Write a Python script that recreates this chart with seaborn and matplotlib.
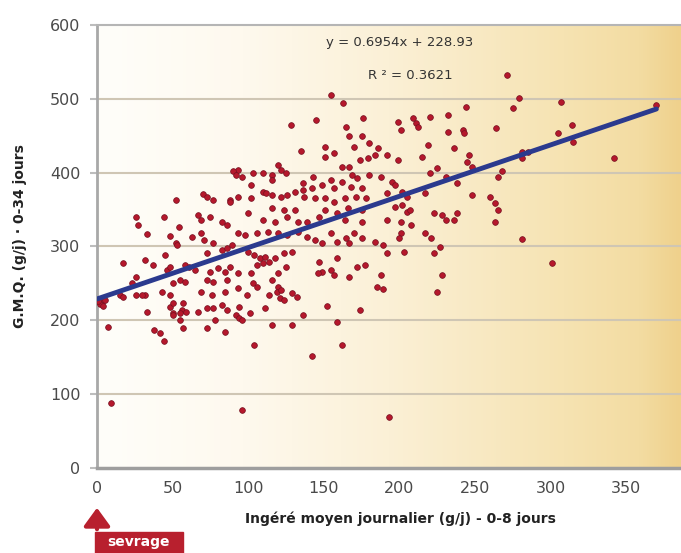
import numpy as np
import pandas as pd
import matplotlib
matplotlib.use("Agg")
import matplotlib.pyplot as plt
import seaborn as sns
from matplotlib.colors import LinearSegmentedColormap
from matplotlib.patches import Rectangle, FancyArrowPatch

# Ingéré moyen journalier (g/j) 0-8 jours
ingere = [
    155, 163, 176, 128, 145, 165, 167, 175, 180, 151,
    157, 151, 170, 135, 174, 179, 162, 167, 169, 172,
    180, 120, 122, 116, 125, 110, 93, 96, 102, 116,
    143, 136, 136, 142, 149, 155, 162, 157, 168, 175,
    93, 102, 110, 116, 122, 126, 131, 137, 144, 151,
    157, 164, 171, 178, 116, 124, 131, 100, 151, 159,
    166, 175, 126, 133, 110, 118, 147, 139, 164, 175,
    # zone gauche haute
    52, 70, 73, 77, 88, 90, 26, 44, 67, 69,
    75, 83, 86, 27, 54, 92, 88, 103, 112,
    # zone gauche basse
    33, 48, 52, 53, 63, 69, 71, 77, 83, 86,
    89, 73, 45, 17, 32, 37, 46, 48, 58, 61,
    65, 75, 80, 85, 88, 26, 50, 55, 58, 73,
    77, 86, 23, 3, 2, 5, 15, 32, 43, 48,
    69, 76, 85, 33, 48, 50, 57, 56, 59, 55,
    57, 67, 73, 77, 83, 86, 78, 73, 85, 7,
    38, 42, 44, 50, 9, 96, 17, 26, 30, 50,
    55, 1, 4,
    # zone centrale basse
    93, 98, 106, 113, 120, 126, 133, 139, 144, 149,
    155, 159, 165, 167, 170, 175, 100, 104, 108, 111,
    114, 110, 106, 118, 124, 129, 159, 125, 147, 149,
    146, 155, 157, 167, 172, 177, 93, 102, 120, 116,
    103, 106, 120, 119, 122, 93, 99, 114, 121, 124,
    129, 132, 94, 111, 92, 94, 96, 101, 136, 152,
    174, 116, 129, 159, 162, 142, 104,
    # zone droite
    244, 275, 199, 201, 209, 211, 212, 220, 232, 232,
    242, 243, 264, 219, 236, 186, 184, 192, 199, 215,
    246, 245, 248, 220, 225, 231, 238, 268, 265, 188,
    195, 197, 192, 202, 205, 217, 248, 260, 263, 265,
    197, 202, 205, 207, 223, 228, 231, 238, 236, 263,
    192, 201, 208,
    # points isolés
    201, 200, 217, 221, 227, 223, 184, 189, 192, 203,
    188, 228, 185, 189, 225, 279, 307, 370, 314, 305,
    315, 281, 285, 281, 342, 281, 301, 271, 193,
]

# G.M.Q. (g/j) 0-34 jours
gmq = [
    505, 494, 474, 465, 472, 462, 450, 450, 440, 435,
    427, 421, 435, 430, 417, 420, 408, 408, 397, 393,
    397, 411, 404, 397, 400, 400, 404, 394, 383, 390,
    394, 386, 377, 379, 383, 390, 388, 379, 381, 379,
    367, 366, 374, 370, 367, 370, 374, 367, 366, 366,
    360, 366, 367, 366, 352, 350, 350, 346, 350, 346,
    352, 350, 340, 333, 336, 333, 340, 333, 336, 333,
    363, 371, 367, 363, 363, 402, 340, 340, 343, 336,
    340, 333, 329, 329, 327, 397, 360, 400, 373,
    317, 314, 305, 302, 313, 318, 309, 305, 295, 298,
    302, 291, 289, 278, 282, 275, 268, 272, 275, 272,
    268, 266, 271, 266, 272, 259, 251, 255, 252, 255,
    252, 255, 251, 225, 222, 228, 234, 234, 238, 234,
    238, 234, 238, 211, 218, 210, 224, 214, 211, 200,
    190, 211, 217, 217, 221, 214, 200, 190, 184, 191,
    187, 183, 172, 207, 88, 79, 232, 234, 234, 224,
    210, 226, 220,
    318, 316, 318, 320, 318, 316, 320, 313, 309, 305,
    318, 306, 312, 305, 318, 312, 293, 289, 285, 286,
    279, 278, 275, 285, 291, 293, 285, 272, 279, 266,
    264, 268, 262, 259, 272, 275, 264, 264, 264, 255,
    251, 245, 245, 238, 241, 244, 234, 234, 230, 228,
    237, 232, 218, 217, 207, 203, 200, 210, 207, 220,
    214, 194, 194, 198, 167, 152, 167,
    489, 488, 469, 458, 474, 467, 462, 476, 478, 455,
    458, 454, 461, 438, 434, 434, 424, 424, 417, 421,
    424, 415, 408, 400, 406, 394, 386, 402, 394, 394,
    388, 383, 373, 374, 367, 373, 370, 367, 359, 350,
    354, 356, 347, 350, 346, 343, 336, 346, 336, 333,
    336, 333, 329,
    318, 312, 318, 312, 299, 291, 306, 302, 291, 293,
    262, 262, 245, 243, 238, 501, 496, 492, 465, 454,
    442, 428, 428, 420, 420, 310, 278, 532, 69,
]

# droite de régression donnée sur le graphique
pente = 0.6954
ordonnee = 228.93
r2 = 0.3621
droite_x = [0, 370]

x_ticks = [0, 50, 100, 150, 200, 250, 300, 350]
y_ticks = [0, 100, 200, 300, 400, 500, 600]

df = pd.DataFrame({'ingere': ingere, 'gmq': gmq})
droite = pd.DataFrame({'x': droite_x, 'y': [pente * v + ordonnee for v in droite_x]})

sns.set_theme(style="white")
plt.rcParams['font.family'] = ['DejaVu Sans']

fig = plt.figure(figsize=(6.81, 5.53), dpi=100)
ax = fig.add_axes([0.1424, 0.1537, 0.857, 0.8011])

# fond dégradé blanc -> beige
fond = LinearSegmentedColormap.from_list('fond', [
    (0.0, '#FFFEFA'), (0.25, '#FEF9EE'), (0.5, '#FBF0D6'),
    (0.8, '#F6E3B2'), (0.93, '#F3DCA2'), (1.0, '#EFD18C')])
ax.imshow(np.linspace(0, 1, 256).reshape(1, -1), cmap=fond, aspect='auto',
          extent=[0, 386, 0, 600], zorder=0)

for v in y_ticks[1:-1]:
    ax.axhline(v, color='#CFC6B4', lw=1.5, zorder=1)

sns.scatterplot(data=df, x='ingere', y='gmq', color='#B5182C', edgecolor='#741020',
                linewidth=0.5, s=17, ax=ax, zorder=3)
sns.lineplot(data=droite, x='x', y='y', color='#2B3A8E', lw=3.5, ax=ax, zorder=4)

ax.text(200, 576, f'y = {pente}x + {ordonnee}', ha='center', va='center',
        fontsize=9.5, color='#333333')
ax.text(207, 532, f'R ² = {r2}', ha='center', va='center', fontsize=9.5, color='#333333')

ax.set_xlim(0, 386)
ax.set_ylim(0, 600)
ax.set_xticks(x_ticks)
ax.set_yticks(y_ticks)
ax.tick_params(axis='x', length=0, pad=9, labelsize=11.5, labelcolor='#4A4A4A')
ax.tick_params(axis='y', length=5, width=1.5, color='#BDBDBD', direction='out',
               pad=7, labelsize=11.5, labelcolor='#4A4A4A', left=True)

ax.set_xlabel('Ingéré moyen journalier (g/j) - 0-8 jours', fontsize=10,
              fontweight='bold', color='#222222')
ax.set_ylabel('G.M.Q. (g/j) · 0-34 jours', fontsize=10, fontweight='bold', color='#222222')
ax.xaxis.set_label_coords(0.52, -0.099)
ax.yaxis.set_label_coords(-0.12, 0.524)

ax.spines['left'].set_color('#A8A8A8')
ax.spines['left'].set_linewidth(2)
ax.spines['bottom'].set_color('#9E9E9E')
ax.spines['bottom'].set_linewidth(2.5)
ax.spines['top'].set_color('#B5B5B5')
ax.spines['top'].set_linewidth(1.5)
ax.spines['right'].set_visible(False)

# annotation "sevrage"
rouge = '#B8202E'
fig.add_artist(Rectangle((95 / 681, 0), 88 / 681, 21 / 553, transform=fig.transFigure,
                         color=rouge))
fig.text(139 / 681, 1 - 542 / 553, 'sevrage', color='white', fontweight='bold',
         fontsize=10, ha='center', va='center')
fig.add_artist(FancyArrowPatch((97 / 681, 21 / 553), (97 / 681, 1 - 505 / 553),
                               transform=fig.transFigure,
                               arrowstyle='-|>,head_width=0.4,head_length=0.55',
                               mutation_scale=20, color=rouge, lw=3))

fig.savefig('out.png', dpi=100)
